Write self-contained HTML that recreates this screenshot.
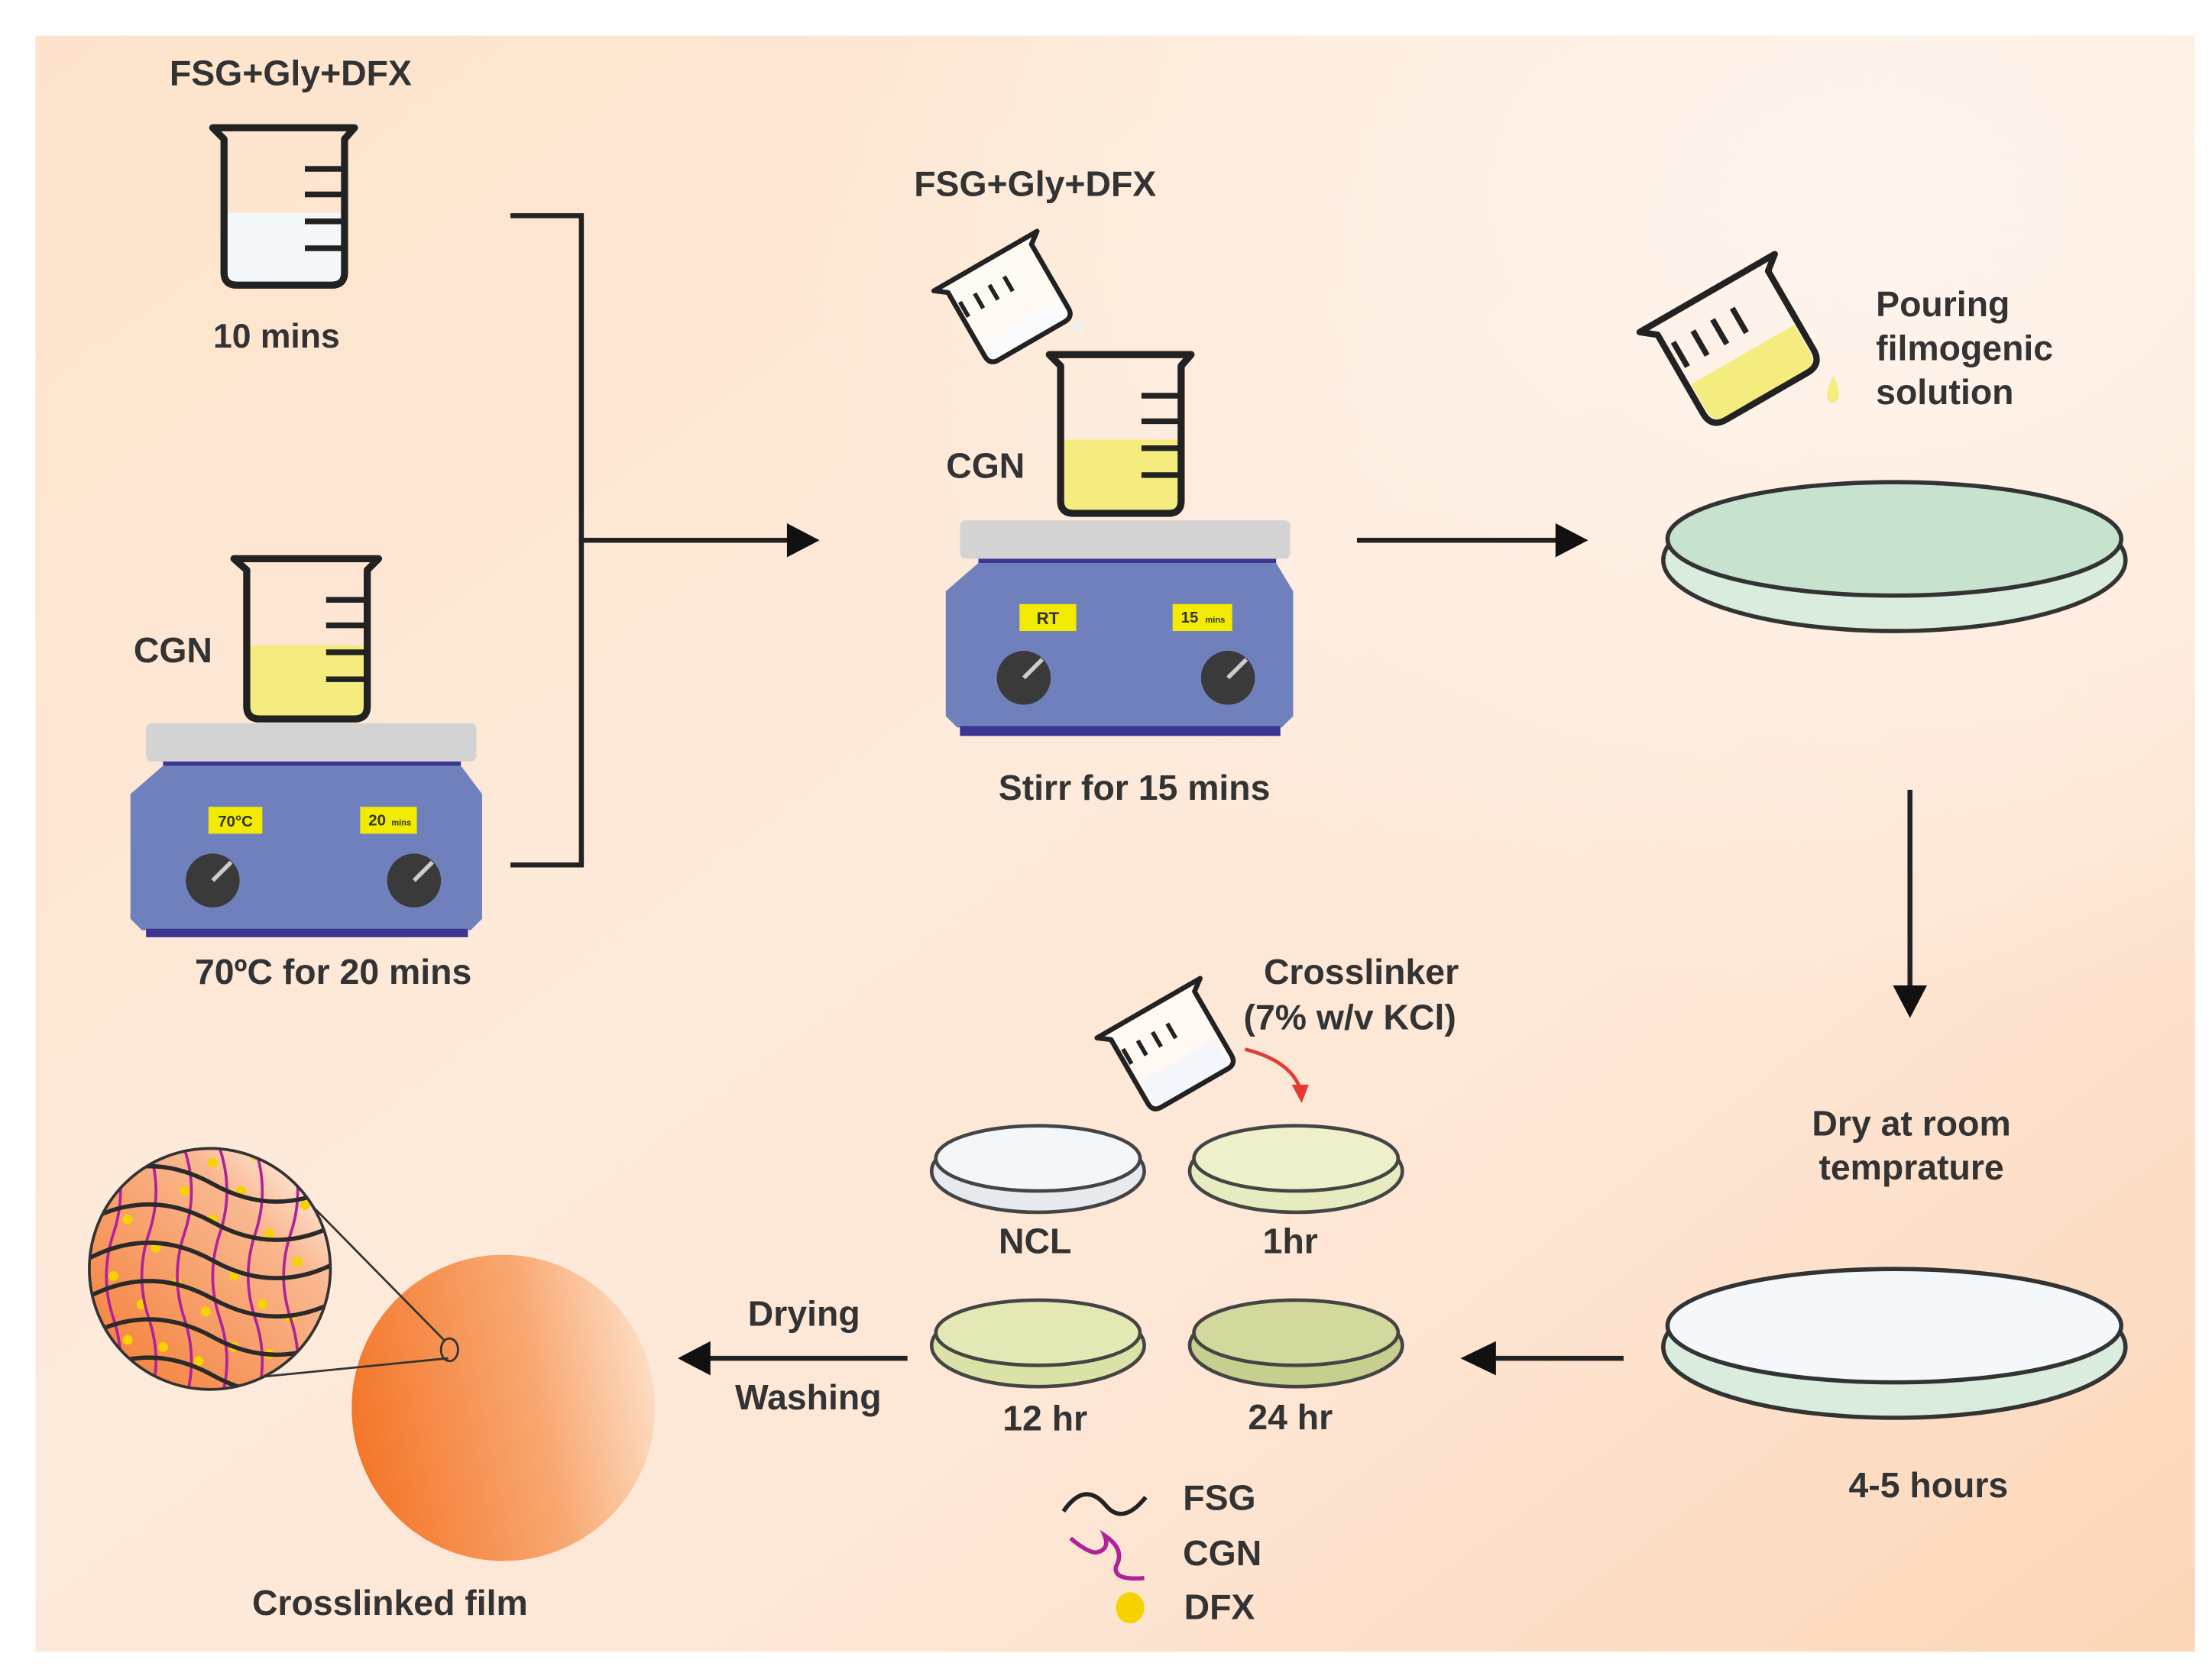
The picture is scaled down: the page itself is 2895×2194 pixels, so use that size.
<!DOCTYPE html>
<html><head><meta charset="utf-8"><style>
html,body{margin:0;padding:0;background:#fff}
svg{display:block}
text{font-family:"Liberation Sans",sans-serif;font-weight:bold;fill:#333}
</style></head><body>
<svg width="2895" height="2194" viewBox="0 0 1560 1182" xmlns="http://www.w3.org/2000/svg">
<defs>
<linearGradient id="bg" x1="0" y1="0" x2="1" y2="1">
<stop offset="0" stop-color="#fde3cb"/><stop offset="0.45" stop-color="#fdeadb"/><stop offset="0.7" stop-color="#fde6d4"/><stop offset="1" stop-color="#fbd6b8"/>
</linearGradient>
<radialGradient id="bg2" cx="0.85" cy="0.1" r="0.5"><stop offset="0" stop-color="#fff6ef" stop-opacity="0.9"/><stop offset="1" stop-color="#fff6ef" stop-opacity="0"/></radialGradient>
<linearGradient id="film" x1="0" y1="0.5" x2="1" y2="0.3"><stop offset="0" stop-color="#f4772a"/><stop offset="0.6" stop-color="#f8a872"/><stop offset="1" stop-color="#fde0c8"/></linearGradient>
<linearGradient id="mag" x1="0" y1="1" x2="1" y2="0"><stop offset="0" stop-color="#f47a30"/><stop offset="0.7" stop-color="#f9b890"/><stop offset="1" stop-color="#ffffff"/></linearGradient>
<clipPath id="mc"><ellipse cx="148" cy="895" rx="85" ry="85"/></clipPath>
</defs>
<rect x="25" y="25" width="1523" height="1140" fill="url(#bg)"/>
<rect x="25" y="25" width="1523" height="1140" fill="url(#bg2)"/>

<!-- Left top beaker -->
<text x="205" y="60" font-size="25" text-anchor="middle">FSG+Gly+DFX</text>
<path d="M160,150 L242,150 L242,192 Q242,200 234,200 L168,200 Q160,200 160,192 Z" fill="#f5f8fb"/>
<path d="M150,90 L250,90 L243,98 L243,192 Q243,201 234,201 L167,201 Q158,201 158,192 L158,98 Z" fill="none" stroke="#222" stroke-width="5" stroke-linejoin="round"/>
<g stroke="#222" stroke-width="4"><line x1="215" y1="119" x2="242" y2="119"/><line x1="215" y1="137" x2="242" y2="137"/><line x1="215" y1="156" x2="242" y2="156"/><line x1="215" y1="175" x2="242" y2="175"/></g>
<text x="195" y="245" font-size="24" text-anchor="middle">10 mins</text>

<!-- Left CGN beaker -->
<text x="122" y="467" font-size="25" text-anchor="middle">CGN</text>
<path d="M175,455 L258,455 L258,498 Q258,506 250,506 L183,506 Q175,506 175,498 Z" fill="#f5ec80"/>
<path d="M165,394 L267,394 L259,402 L259,498 Q259,507 250,507 L183,507 Q174,507 174,498 L174,402 Z" fill="none" stroke="#222" stroke-width="5" stroke-linejoin="round"/>
<g stroke="#222" stroke-width="4"><line x1="230" y1="423" x2="258" y2="423"/><line x1="230" y1="441" x2="258" y2="441"/><line x1="230" y1="460" x2="258" y2="460"/><line x1="230" y1="479" x2="258" y2="479"/></g>
<rect x="103" y="510" width="233" height="27" rx="4" fill="#d4d3d4"/>
<rect x="115" y="537" width="210" height="5" fill="#3d3592"/>
<path d="M115,540 L325,540 L340,560 L340,648 L332,656 L100,656 L92,648 L92,560 Z" fill="#6f80bd"/>
<rect x="103" y="655" width="227" height="6" fill="#3d3592"/>
<rect x="147" y="569" width="38" height="19" fill="#f2ea00"/><text x="166" y="583" font-size="11" text-anchor="middle">70°C</text>
<rect x="254" y="569" width="40" height="19" fill="#f2ea00"/><text x="266" y="582" font-size="11" text-anchor="middle">20</text><text x="283" y="582" font-size="6" text-anchor="middle">mins</text>
<circle cx="150" cy="621" r="19" fill="#3a3a3a"/><line x1="150" y1="621" x2="163" y2="608" stroke="#ccc" stroke-width="3"/>
<circle cx="292" cy="621" r="19" fill="#3a3a3a"/><line x1="292" y1="621" x2="305" y2="608" stroke="#ccc" stroke-width="3"/>
<text x="235" y="694" font-size="25" text-anchor="middle">70ºC for 20 mins</text>

<path d="M360,152 L410,152 L410,610 L360,610" fill="none" stroke="#222" stroke-width="3.5"/>
<line x1="410" y1="381" x2="558" y2="381" stroke="#222" stroke-width="3.5"/>
<path d="M555,369 L578,381 L555,393 Z" fill="#111"/>

<!-- middle -->
<text x="730" y="138" font-size="25" text-anchor="middle">FSG+Gly+DFX</text>
<g transform="translate(710,210) rotate(-30)">
<path d="M-32,20 L32,20 L32,28 Q32,34 26,34 L-26,34 Q-32,34 -32,28 Z" fill="#e6eef6"/>
<path d="M-42,-30 L42,-30 L34,-24 L34,28 Q34,35 27,35 L-27,35 Q-34,35 -34,28 L-34,-24 Z" fill="#fff" fill-opacity="0.7" stroke="#222" stroke-width="3.5" stroke-linejoin="round"/>
<g stroke="#222" stroke-width="3"><line x1="-30" y1="-14" x2="-30" y2="-2"/><line x1="-18" y1="-14" x2="-18" y2="-2"/><line x1="-6" y1="-14" x2="-6" y2="-2"/><line x1="6" y1="-14" x2="6" y2="-2"/></g>
</g>
<circle cx="760" cy="230" r="3" fill="#e8f0f8"/>
<text x="695" y="337" font-size="25" text-anchor="middle">CGN</text>
<path d="M750,310 L832,310 L832,353 Q832,361 824,361 L758,361 Q750,361 750,353 Z" fill="#f5ec80"/>
<path d="M740,250 L840,250 L833,258 L833,353 Q833,362 824,362 L757,362 Q748,362 748,353 L748,258 Z" fill="none" stroke="#222" stroke-width="5" stroke-linejoin="round"/>
<g stroke="#222" stroke-width="4"><line x1="805" y1="279" x2="832" y2="279"/><line x1="805" y1="297" x2="832" y2="297"/><line x1="805" y1="316" x2="832" y2="316"/><line x1="805" y1="335" x2="832" y2="335"/></g>
<rect x="677" y="367" width="233" height="27" rx="4" fill="#d4d3d4"/>
<rect x="690" y="394" width="210" height="5" fill="#3d3592"/>
<path d="M690,397 L900,397 L912,417 L912,505 L904,513 L675,513 L667,505 L667,417 Z" fill="#6f80bd"/>
<rect x="677" y="512" width="226" height="7" fill="#3d3592"/>
<rect x="719" y="426" width="40" height="19" fill="#f2ea00"/><text x="739" y="440" font-size="12" text-anchor="middle">RT</text>
<rect x="827" y="426" width="42" height="19" fill="#f2ea00"/><text x="839" y="439" font-size="11" text-anchor="middle">15</text><text x="857" y="439" font-size="6" text-anchor="middle">mins</text>
<circle cx="722" cy="478" r="19" fill="#3a3a3a"/><line x1="722" y1="478" x2="735" y2="465" stroke="#ccc" stroke-width="3"/>
<circle cx="866" cy="478" r="19" fill="#3a3a3a"/><line x1="866" y1="478" x2="879" y2="465" stroke="#ccc" stroke-width="3"/>
<text x="800" y="564" font-size="25" text-anchor="middle">Stirr for 15 mins</text>

<line x1="957" y1="381" x2="1100" y2="381" stroke="#222" stroke-width="3.5"/>
<path d="M1097,369 L1120,381 L1097,393 Z" fill="#111"/>

<g transform="translate(1225,243) rotate(-30)">
<path d="M-42,8 L42,8 L42,30 Q42,40 32,40 L-32,40 Q-42,40 -42,30 Z" fill="#f5ec80"/>
<path d="M-55,-42 L55,-42 L45,-34 L45,30 Q45,42 33,42 L-33,42 Q-45,42 -45,30 L-45,-34 Z" fill="none" stroke="#222" stroke-width="4.5" stroke-linejoin="round"/>
<g stroke="#222" stroke-width="4"><line x1="-38" y1="-24" x2="-38" y2="-4"/><line x1="-22" y1="-24" x2="-22" y2="-4"/><line x1="-6" y1="-24" x2="-6" y2="-4"/><line x1="10" y1="-24" x2="10" y2="-4"/></g>
</g>
<path d="M1293,265 Q1299,277 1296,282 Q1293,286 1289,282 Q1287,277 1293,265 Z" fill="#f5ec80"/>
<text x="1323" y="223" font-size="25">Pouring</text>
<text x="1323" y="254" font-size="25">filmogenic</text>
<text x="1323" y="285" font-size="25">solution</text>
<ellipse cx="1336" cy="395" rx="163" ry="50" fill="#d9ecdd" stroke="#333" stroke-width="3"/>
<ellipse cx="1336" cy="380" rx="160" ry="40" fill="#c7e2cd" stroke="#333" stroke-width="3"/>

<line x1="1347" y1="557" x2="1347" y2="698" stroke="#222" stroke-width="3.5"/>
<path d="M1335,695 L1347,718 L1359,695 Z" fill="#111"/>
<text x="1348" y="801" font-size="25" text-anchor="middle">Dry at room</text>
<text x="1348" y="832" font-size="25" text-anchor="middle">temprature</text>
<ellipse cx="1336" cy="950" rx="163" ry="50" fill="#d9ecdd" stroke="#333" stroke-width="3"/>
<ellipse cx="1336" cy="935" rx="160" ry="40" fill="#f4f8fa" stroke="#333" stroke-width="3"/>
<text x="1360" y="1056" font-size="25" text-anchor="middle">4-5 hours</text>

<line x1="1145" y1="958" x2="1052" y2="958" stroke="#222" stroke-width="3.5"/>
<path d="M1055,946 L1030,958 L1055,970 Z" fill="#111"/>

<g stroke="#444" stroke-width="2.5">
<ellipse cx="732" cy="826" rx="75" ry="29" fill="#e6eaee"/><ellipse cx="732" cy="817" rx="72" ry="23" fill="#f4f7fa"/>
<ellipse cx="914" cy="826" rx="75" ry="29" fill="#e6ecc0"/><ellipse cx="914" cy="817" rx="72" ry="23" fill="#eef0cc"/>
<ellipse cx="732" cy="949" rx="75" ry="29" fill="#dbe2a8"/><ellipse cx="732" cy="940" rx="72" ry="23" fill="#e3e8b4"/>
<ellipse cx="914" cy="949" rx="75" ry="29" fill="#c7cf8e"/><ellipse cx="914" cy="940" rx="72" ry="23" fill="#d3d99c"/>
</g>
<text x="730" y="884" font-size="25" text-anchor="middle">NCL</text>
<text x="910" y="884" font-size="25" text-anchor="middle">1hr</text>
<text x="737" y="1009" font-size="25" text-anchor="middle">12 hr</text>
<text x="910" y="1008" font-size="25" text-anchor="middle">24 hr</text>
<g transform="translate(825,737) rotate(-30)">
<path d="M-30,12 L30,12 L30,28 Q30,34 24,34 L-24,34 Q-30,34 -30,28 Z" fill="#d8e2ee"/>
<path d="M-42,-30 L42,-30 L34,-24 L34,28 Q34,35 27,35 L-27,35 Q-34,35 -34,28 L-34,-24 Z" fill="#fff" fill-opacity="0.7" stroke="#222" stroke-width="3.5" stroke-linejoin="round"/>
<g stroke="#222" stroke-width="3"><line x1="-30" y1="-14" x2="-30" y2="-2"/><line x1="-18" y1="-14" x2="-18" y2="-2"/><line x1="-6" y1="-14" x2="-6" y2="-2"/><line x1="6" y1="-14" x2="6" y2="-2"/></g>
</g>
<text x="960" y="694" font-size="25" text-anchor="middle">Crosslinker</text>
<text x="952" y="726" font-size="25" text-anchor="middle">(7% w/v KCl)</text>
<path d="M878,740 Q910,748 917,768" fill="none" stroke="#e53b30" stroke-width="2.5"/>
<path d="M911,765 L918,778 L923,765 Z" fill="#e53b30"/>

<line x1="640" y1="958" x2="498" y2="958" stroke="#222" stroke-width="3.5"/>
<path d="M501,946 L478,958 L501,970 Z" fill="#111"/>
<text x="567" y="935" font-size="25" text-anchor="middle">Drying</text>
<text x="570" y="994" font-size="25" text-anchor="middle">Washing</text>

<ellipse cx="355" cy="993" rx="107" ry="108" fill="url(#film)"/>
<line x1="200" y1="830" x2="313" y2="945" stroke="#333" stroke-width="1.5"/>
<line x1="175" y1="972" x2="316" y2="958" stroke="#333" stroke-width="1.5"/>
<ellipse cx="317" cy="952" rx="6" ry="8" fill="none" stroke="#333" stroke-width="1.5"/>
<g clip-path="url(#mc)">
<ellipse cx="148" cy="895" rx="85" ry="85" fill="url(#mag)"/>
<g fill="#f5d200">
<circle cx="90" cy="860" r="3.5"/><circle cx="110" cy="880" r="3.5"/><circle cx="130" cy="840" r="3.5"/><circle cx="150" cy="860" r="3.5"/><circle cx="170" cy="840" r="3.5"/><circle cx="190" cy="870" r="3.5"/><circle cx="210" cy="890" r="3.5"/><circle cx="80" cy="900" r="3.5"/><circle cx="100" cy="920" r="3.5"/><circle cx="125" cy="905" r="3.5"/><circle cx="145" cy="925" r="3.5"/><circle cx="165" cy="900" r="3.5"/><circle cx="185" cy="920" r="3.5"/><circle cx="205" cy="930" r="3.5"/><circle cx="90" cy="945" r="3.5"/><circle cx="115" cy="950" r="3.5"/><circle cx="140" cy="960" r="3.5"/><circle cx="165" cy="950" r="3.5"/><circle cx="190" cy="955" r="3.5"/><circle cx="150" cy="820" r="3.5"/><circle cx="180" cy="815" r="3.5"/><circle cx="215" cy="850" r="3.5"/>
</g>
<g fill="none" stroke="#b0229a" stroke-width="2">
<path d="M80,810 q10,30 0,60 q-10,30 0,60 q10,30 0,60"/>
<path d="M105,810 q10,30 0,60 q-10,30 0,60 q10,30 0,60"/>
<path d="M130,810 q10,30 0,60 q-10,30 0,60 q10,30 0,60"/>
<path d="M155,810 q10,30 0,60 q-10,30 0,60 q10,30 0,60"/>
<path d="M180,810 q10,30 0,60 q-10,30 0,60 q10,30 0,60"/>
<path d="M205,810 q10,30 0,60 q-10,30 0,60 q10,30 0,60"/>
</g>
<g fill="none" stroke="#2a2a2a" stroke-width="3">
<path d="M60,835 q45,-25 90,0 t90,0"/>
<path d="M60,862 q45,-25 90,0 t90,0"/>
<path d="M60,889 q45,-25 90,0 t90,0"/>
<path d="M60,916 q45,-25 90,0 t90,0"/>
<path d="M60,943 q45,-25 90,0 t90,0"/>
<path d="M60,970 q45,-25 90,0 t90,0"/>
</g>
</g>
<ellipse cx="148" cy="895" rx="85" ry="85" fill="none" stroke="#333" stroke-width="2"/>
<text x="275" y="1139" font-size="25" text-anchor="middle">Crosslinked film</text>

<path d="M750,1066 q15,-22 30,-4 q12,14 28,-6" fill="none" stroke="#222" stroke-width="3"/>
<path d="M755,1085 q12,10 18,10 q10,-2 6,-12 q15,10 8,22 q-2,10 20,8" fill="none" stroke="#b0229a" stroke-width="3"/>
<text x="860" y="1065" font-size="25" text-anchor="middle">FSG</text>
<text x="862" y="1104" font-size="25" text-anchor="middle">CGN</text>
<ellipse cx="797" cy="1134" rx="10" ry="11" fill="#f5d200"/>
<text x="860" y="1142" font-size="25" text-anchor="middle">DFX</text>
</svg>
</body></html>
